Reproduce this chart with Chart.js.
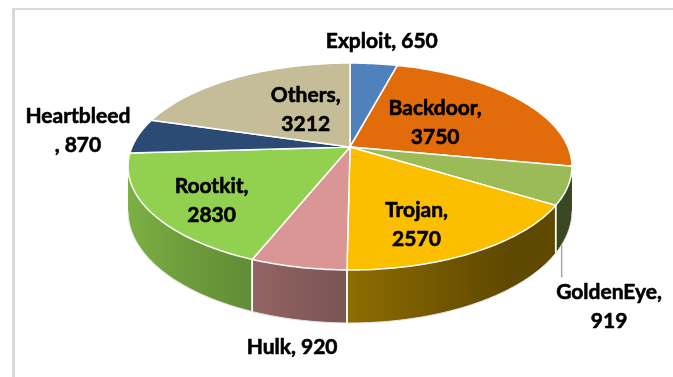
<!DOCTYPE html>
<html>
<head>
<meta charset="utf-8">
<title>Attack types</title>
<script src="https://cdn.jsdelivr.net/npm/chart.js@4.4.1/dist/chart.umd.min.js"></script>
<style>
  html, body { margin: 0; padding: 0; background: #fff; }
  canvas { display: block; }
</style>
</head>
<body>
<canvas id="attackChart" width="673" height="377"></canvas>
<script>
const categories = ['Exploit', 'Backdoor', 'GoldenEye', 'Trojan', 'Hulk', 'Rootkit', 'Heartbleed', 'Others'];
const counts = [650, 3750, 919, 2570, 920, 2830, 870, 3212];
const sliceColors = ['#4F81BD', '#E26B0A', '#9BBB59', '#FBBF00', '#D99694', '#92D050', '#2B4B74', '#C4BD97'];

// data label layout: line break style, radius factor of the anchor, pixel nudge
const labelBreak = ['none', 'after', 'after', 'after', 'none', 'after', 'before', 'after'];
const labelRadius = [1, 0.55, 1, 0.55, 1, 0.55, 1, 0.55];
const labelShift = [[8, -22], [-11, 3], [41, 121], [3, 25], [-6, 80], [-35, 19], [-60, -5], [22, 3]];
const labelLeader = [false, false, true, false, false, false, false, false];

// tilted view of the pie: stretch, perspective and wall height (relative to radius)
const view = { sx: 2.0, sy: 0.9156, tilt: 0.1885, depth: 0.3945 };

function project(arc, a, r) {
    const c = Math.cos(a) * r, s = Math.sin(a) * r;
    const w = 1 - view.tilt * s;
    const R = arc.outerRadius;
    return { x: arc.x + view.sx * R * c / w, y: arc.y + view.sy * R * s / w, w: w };
}

function wallHeight(arc, a) {
    return view.depth * arc.outerRadius / (1 - view.tilt * Math.sin(a));
}

function shade(hex, f) {
    const n = parseInt(hex.slice(1), 16);
    const r = Math.round(((n >> 16) & 255) * f);
    const g = Math.round(((n >> 8) & 255) * f);
    const b = Math.round((n & 255) * f);
    return 'rgb(' + r + ',' + g + ',' + b + ')';
}

// walls are lit from the left
function wallLight(a) {
    return Math.max(0.38, 0.56 - 0.3 * Math.cos(a));
}

function labelLines(i) {
    const name = categories[i], val = String(counts[i]);
    if (labelBreak[i] === 'after') return [name + ',', val];
    if (labelBreak[i] === 'before') return [name, ', ' + val];
    return [name + ', ' + val];
}

const pie3d = {
    id: 'pie3d',
    beforeDraw(chart) {
        const ctx = chart.ctx;
        ctx.save();
        ctx.fillStyle = '#fff';
        ctx.fillRect(0, 0, chart.width, chart.height);
        ctx.strokeStyle = '#D9D9D9';
        ctx.lineWidth = 3;
        ctx.beginPath();
        ctx.moveTo(13.5, 8);
        ctx.lineTo(13.5, chart.height);
        ctx.stroke();
        ctx.lineWidth = 2;
        ctx.beginPath();
        ctx.moveTo(12, 9);
        ctx.lineTo(chart.width, 9);
        ctx.stroke();
        ctx.restore();
    },
    beforeDatasetsDraw(chart) {
        const ctx = chart.ctx;
        const arcs = chart.getDatasetMeta(0).data;
        const vis0 = Math.asin(view.tilt), vis1 = Math.PI - vis0;

        ctx.save();
        // outer walls on the near side
        arcs.forEach((arc, i) => {
            const a1 = Math.max(arc.startAngle, vis0), a2 = Math.min(arc.endAngle, vis1);
            if (a2 <= a1) return;
            const steps = Math.max(8, Math.ceil((a2 - a1) / 0.02));
            const top = [], bottom = [];
            for (let k = 0; k <= steps; k++) {
                const a = a1 + (a2 - a1) * k / steps;
                const p = project(arc, a, 1);
                top.push(p);
                bottom.push({ x: p.x, y: p.y + wallHeight(arc, a) });
            }
            const xs = top.map(p => p.x);
            const xmin = Math.min(...xs), xmax = Math.max(...xs);
            const grad = ctx.createLinearGradient(xmin, 0, xmax + 0.01, 0);
            for (let k = 0; k <= 6; k++) {
                const a = a1 + (a2 - a1) * k / 6;
                const p = project(arc, a, 1);
                const t = xmax > xmin ? (p.x - xmin) / (xmax - xmin) : 0;
                grad.addColorStop(Math.min(1, Math.max(0, t)), shade(sliceColors[i], wallLight(a)));
            }
            ctx.beginPath();
            top.forEach((p, k) => k ? ctx.lineTo(p.x, p.y) : ctx.moveTo(p.x, p.y));
            for (let k = bottom.length - 1; k >= 0; k--) ctx.lineTo(bottom[k].x, bottom[k].y);
            ctx.closePath();
            ctx.fillStyle = grad;
            ctx.fill();
        });

        // seams between walls
        ctx.strokeStyle = '#fff';
        ctx.lineWidth = 1.5;
        arcs.forEach(arc => {
            [arc.startAngle, arc.endAngle].forEach(a => {
                if (a <= vis0 + 0.01 || a >= vis1 - 0.01) return;
                const p = project(arc, a, 1);
                ctx.beginPath();
                ctx.moveTo(p.x, p.y);
                ctx.lineTo(p.x, p.y + wallHeight(arc, a));
                ctx.stroke();
            });
        });

        // faint outline under the walls
        if (arcs.length) {
            const arc = arcs[0];
            ctx.strokeStyle = '#E4E4E4';
            ctx.lineWidth = 1;
            ctx.beginPath();
            for (let k = 0; k <= 120; k++) {
                const a = vis0 + (vis1 - vis0) * k / 120;
                const p = project(arc, a, 1);
                const y = p.y + wallHeight(arc, a);
                k ? ctx.lineTo(p.x, y) : ctx.moveTo(p.x, y);
            }
            ctx.stroke();
        }

        // top faces
        ctx.lineJoin = 'round';
        arcs.forEach((arc, i) => {
            const steps = Math.max(4, Math.ceil((arc.endAngle - arc.startAngle) / 0.02));
            ctx.beginPath();
            ctx.moveTo(arc.x, arc.y);
            for (let k = 0; k <= steps; k++) {
                const a = arc.startAngle + (arc.endAngle - arc.startAngle) * k / steps;
                const p = project(arc, a, 1);
                ctx.lineTo(p.x, p.y);
            }
            ctx.closePath();
            ctx.fillStyle = sliceColors[i];
            ctx.fill();
            ctx.strokeStyle = '#fff';
            ctx.lineWidth = 1.5;
            ctx.stroke();
        });
        ctx.restore();
        return false;
    },
    // data labels (drawn after everything, since the default arc pass is skipped)
    afterDraw(chart) {
        const ctx = chart.ctx;
        const arcs = chart.getDatasetMeta(0).data;
        const vis0 = Math.asin(view.tilt);
        const lineGap = 29;
        ctx.save();
        ctx.font = 'bold 21px Lato, "Open Sans", sans-serif';
        ctx.textAlign = 'center';
        ctx.textBaseline = 'middle';
        ctx.fillStyle = '#000';
        ctx.strokeStyle = '#000';
        ctx.lineJoin = 'round';
        arcs.forEach((arc, i) => {
            const mid = (arc.startAngle + arc.endAngle) / 2;
            const p = project(arc, mid, labelRadius[i]);
            const cx = p.x + labelShift[i][0], cy = p.y + labelShift[i][1];
            const lines = labelLines(i);
            const y0 = cy - (lines.length - 1) * lineGap / 2;
            if (labelLeader[i]) {
                const a1 = Math.max(arc.startAngle, vis0);
                const a = a1 + (arc.endAngle - a1) * 0.8;
                const q = project(arc, a, 1);
                ctx.strokeStyle = '#A6A6A6';
                ctx.lineWidth = 1.5;
                ctx.beginPath();
                ctx.moveTo(q.x, q.y + wallHeight(arc, a));
                ctx.lineTo(q.x, y0 - 15);
                ctx.stroke();
                ctx.strokeStyle = '#000';
            }
            ctx.lineWidth = 0.6;
            lines.forEach((t, k) => {
                ctx.fillText(t, cx, y0 + k * lineGap);
                ctx.strokeText(t, cx, y0 + k * lineGap);
            });
        });
        ctx.restore();
    }
};

new Chart(document.getElementById('attackChart').getContext('2d'), {
    type: 'pie',
    data: {
        labels: categories,
        datasets: [{
            data: counts,
            backgroundColor: sliceColors,
            borderWidth: 0
        }]
    },
    options: {
        responsive: false,
        animation: false,
        layout: { padding: { left: 132, right: 105, top: 38, bottom: 121 } },
        plugins: {
            legend: { display: false },
            tooltip: { enabled: false }
        }
    },
    plugins: [pie3d]
});
</script>
</body>
</html>
